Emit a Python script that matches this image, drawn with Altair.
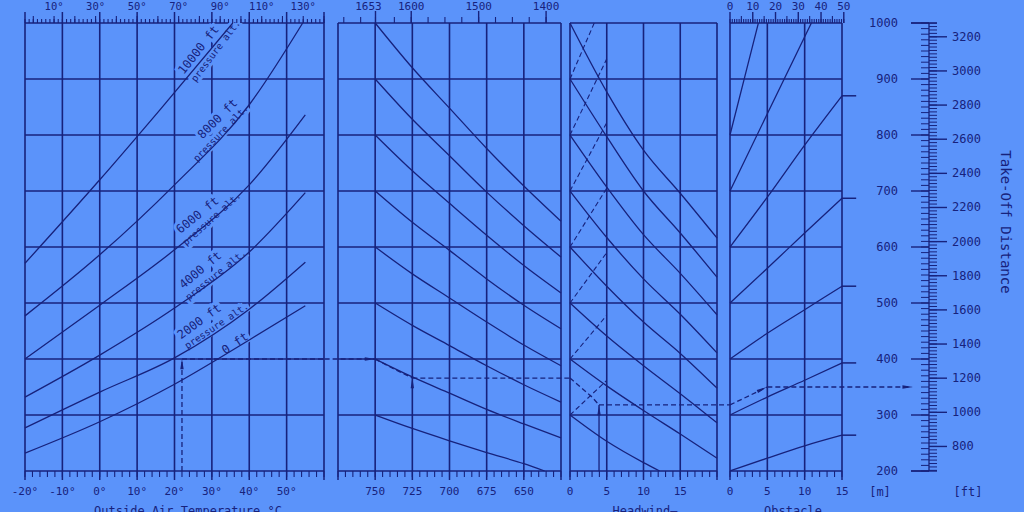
import altair as alt
import pandas as pd

BG = "#5b93fa"
INK = "#17227c"
FONT = "DejaVu Sans Mono"

# ---------------- data ----------------
dist_grid = [200, 300, 400, 500, 600, 700, 800, 900, 1000]
temp_grid = [-20, -10, 0, 10, 20, 30, 40, 50, 60]
weight_grid = [775, 750, 725, 700, 675, 650, 625]
wind_grid = [0, 5, 10, 15, 20]
obst_grid = [0, 5, 10, 15]

# panel 1: pressure altitude curves (temperature degC -> distance m)
alt_names = ["0 ft", "2000 ft", "4000 ft", "6000 ft", "8000 ft", "10000 ft"]
alt_temp = [
    [-20, 0, 20, 40, 55],
    [-20, 0, 20, 40, 55],
    [-20, 0, 20, 40, 55],
    [-20, 0, 20, 40, 55],
    [-20, 0, 20, 40, 54.3],
    [-20, 0, 16.1, 35.6],
]
alt_dist = [
    [232, 288, 355, 434, 495],
    [277, 341, 402, 489, 573],
    [332, 407, 491, 591, 697],
    [400, 496, 595, 711, 836],
    [477, 586, 711, 854, 1000],
    [571, 720, 845, 1000],
]
lab_text = ["10000 ft", "pressure alt.", "8000 ft", "pressure alt.", "6000 ft", "pressure alt.",
            "4000 ft", "pressure alt.", "2000 ft", "pressure alt.", "0 ft"]
lab_temp = [26.4, 31.05, 31.5, 32.4, 26.15, 30.0, 26.9, 31.05, 26.6, 31.3, 36.2]
lab_dist = [952, 950, 829, 803, 657, 650, 559, 550, 467, 459, 428]
lab_angle = [308, 307, 315, 314, 321, 318, 320, 321, 324, 326, 326]
lab_size = [12, 9.5, 12, 9.5, 12, 9.5, 12, 9.5, 12, 9.5, 12]

# panel 2: weight curves (kg -> distance m)
weight_pts = [750, 725, 700, 675, 650, 625]
weight_curves = [
    [1000, 920, 848, 776, 709, 646],
    [900, 828, 763, 698, 638, 582],
    [800, 736, 678, 621, 567, 518],
    [700, 644, 594, 543, 496, 454],
    [600, 552, 509, 466, 425, 388],
    [500, 460, 424, 388, 354, 323],
    [400, 368, 339, 310, 284, 259],
]
weight_last_w = [750, 725, 700, 675, 650, 636]
weight_last_d = [300, 276, 254, 233, 213, 200]

# panel 3: headwind curves (kt -> distance m)
wind_pts = [0, 5, 10, 15, 20]
wind_curves = [
    [1000, 877, 773, 696, 616],
    [900, 797, 700, 625, 546],
    [800, 707, 622, 553, 479],
    [700, 617, 543, 480, 411],
    [600, 530, 466, 410, 348],
    [500, 441, 388, 338, 286],
    [400, 352, 308, 266, 223],
]
wind_last_v = [0, 5, 10, 12.2]
wind_last_d = [300, 253, 215, 200]
tail_start = [900, 800, 700, 600, 500, 400, 300]
tail_end_v = [3.3, 5, 5, 5, 5, 5, 5]
tail_end_d = [1000, 936, 822, 705, 590, 478, 362]

# panel 4: obstacle height lines (m -> distance m)
obst_h = [
    [0, 5, 10, 15],
    [0, 5, 10, 15],
    [0, 5, 10, 15],
    [0, 5, 10, 15],
    [0, 5, 10, 15],
    [0, 5, 10.9],
    [0, 2, 3.8],
]
obst_d = [
    [200, 223, 245, 264],
    [300, 332, 362, 393],
    [400, 446, 488, 530],
    [500, 562, 625, 687],
    [600, 689, 782, 870],
    [700, 838, 1000],
    [800, 905, 1000],
]

# axis tick values / labels
top1_F_labels = [10, 30, 50, 70, 90, 110, 130]
bottom1_labels = [-20, -10, 0, 10, 20, 30, 40, 50]
top2_lb_ticks = [1700, 1675, 1653, 1625, 1600, 1575, 1550, 1525, 1500, 1475, 1450, 1425, 1400]
top2_lb_major = [1653, 1600, 1500, 1400]
bottom2_labels = [750, 725, 700, 675, 650]
bottom3_labels = [0, 5, 10, 15]
bottom4_labels = [0, 5, 10, 15]
top4_ft_labels = [0, 10, 20, 30, 40, 50]
right_m_labels = [200, 300, 400, 500, 600, 700, 800, 900, 1000]
right_ft_labels = [800, 1000, 1200, 1400, 1600, 1800, 2000, 2200, 2400, 2600, 2800, 3000, 3200]

# worked example path
ex_temp = 22
ex_alt_d = 400
ex_weight = 725
ex_weight_d = 366
ex_wind = 3.95
ex_wind_path_v = [0, 3, 3.95]
ex_wind_path_d = [366, 332, 318]
ex_obst = 5
ex_result = 350

# ---------------- scales ----------------
SY = alt.Scale(domain=[200, 1000], range=[471, 23], nice=False, zero=False)
SX1 = alt.Scale(domain=[-20, 60], range=[25, 324], nice=False, zero=False)
SX2 = alt.Scale(domain=[625, 775], range=[561, 338], nice=False, zero=False)
SX3 = alt.Scale(domain=[0, 20], range=[570, 717], nice=False, zero=False)
SX4 = alt.Scale(domain=[0, 15], range=[730, 842], nice=False, zero=False)


def X(sx, f="x"):
    return alt.X(f"{f}:Q", scale=sx, axis=None)


def Y(f="d"):
    return alt.Y(f"{f}:Q", scale=SY, axis=None)


def grid(sx, xs, lo, hi):
    vg = pd.DataFrame({"x": xs, "y0": 200, "y1": 1000})
    hg = pd.DataFrame({"d": dist_grid, "x0": lo, "x1": hi})
    v = alt.Chart(vg).mark_rule(color=INK, strokeWidth=1.6).encode(x=X(sx), y=Y("y0"), y2="y1:Q")
    h = alt.Chart(hg).mark_rule(color=INK, strokeWidth=1.6).encode(x=X(sx, "x0"), x2="x1:Q", y=Y())
    return [v, h]


def curves(sx, xs_list, ds_list, dash=None, sw=1.3):
    rows = []
    for i, (xs, ds) in enumerate(zip(xs_list, ds_list)):
        for j, (a, b) in enumerate(zip(xs, ds)):
            rows.append({"c": i, "o": j, "x": a, "d": b})
    mk = dict(color=INK, strokeWidth=sw, interpolate="monotone")
    if dash:
        mk["strokeDash"] = dash
        mk["interpolate"] = "linear"
    return alt.Chart(pd.DataFrame(rows)).mark_line(**mk).encode(
        x=X(sx), y=Y(), detail="c:N", order="o:Q")


def ticks(sx, vals, at, length, sw=1.1):
    df = pd.DataFrame({"x": list(vals), "d": at})
    return alt.Chart(df).mark_rule(color=INK, strokeWidth=sw, y2Offset=length).encode(
        x=X(sx), y=Y(), y2="d:Q")


def xlabels(sx, vals, texts, at, dy, size=11, dx=0):
    df = pd.DataFrame({"x": list(vals), "t": list(texts), "d": at})
    return alt.Chart(df).mark_text(color=INK, font=FONT, fontSize=size, dy=dy, dx=dx,
                                   baseline="middle", align="center").encode(
        x=X(sx), y=Y(), text="t:N")


def arrow(sx, x, d, kind, ang=0):
    shapes = {"up": "M0,-1L0.32,1L-0.32,1Z", "right": "M1,0L-1,0.32L-1,-0.32Z"}
    df = pd.DataFrame({"x": [x], "d": [d]})
    mk = dict(shape=shapes[kind], size=110, filled=True, color=INK, opacity=1, strokeWidth=0)
    if ang:
        mk["angle"] = ang
    return alt.Chart(df).mark_point(**mk).encode(x=X(sx), y=Y())


def seg(sx, xs, ds, dash=True, sw=1.3):
    df = pd.DataFrame({"x": xs, "d": ds, "o": list(range(len(xs)))})
    mk = dict(color=INK, strokeWidth=sw)
    if dash:
        mk["strokeDash"] = [5, 3]
    return alt.Chart(df).mark_line(**mk).encode(x=X(sx), y=Y(), order="o:Q")


def f2c(f):
    return (f - 32) * 5 / 9


TOP_DY = -16

# ---------------- panel 1 ----------------
labdf = pd.DataFrame({"x": lab_temp, "d": lab_dist, "t": lab_text, "ang": lab_angle, "s": lab_size})
halo = alt.Chart(labdf).mark_text(font=FONT, fill=BG, stroke=BG, strokeWidth=6,
                                  baseline="middle", align="center").encode(
    x=X(SX1), y=Y(), text="t:N", angle=alt.Angle("ang:Q", scale=None),
    size=alt.Size("s:Q", scale=None))
labs = alt.Chart(labdf).mark_text(font=FONT, color=INK, baseline="middle", align="center").encode(
    x=X(SX1), y=Y(), text="t:N", angle=alt.Angle("ang:Q", scale=None),
    size=alt.Size("s:Q", scale=None))

p1 = alt.layer(
    *grid(SX1, temp_grid, -20, 60),
    halo,
    curves(SX1, alt_temp, alt_dist),
    labs,
    ticks(SX1, [f2c(f) for f in range(-4, 141, 2)], 1000, -4),
    ticks(SX1, [f2c(f) for f in range(0, 141, 10)], 1000, -7),
    ticks(SX1, temp_grid, 1000, -11, 1.5),
    xlabels(SX1, [f2c(f) for f in top1_F_labels], [f"{f}°" for f in top1_F_labels], 1000, TOP_DY, 10.5),
    ticks(SX1, list(range(-20, 61, 2)), 200, 6),
    ticks(SX1, temp_grid, 200, 9, 1.5),
    xlabels(SX1, bottom1_labels, [f"{v}°" for v in bottom1_labels], 200, 21),
    seg(SX1, [ex_temp, ex_temp], [200, ex_alt_d]),
    seg(SX1, [ex_temp, 60], [ex_alt_d, ex_alt_d]),
    arrow(SX1, ex_temp, ex_alt_d - 9, "up"),
)

# ---------------- panel 2 ----------------
w_x = [weight_pts] * len(weight_curves) + [weight_last_w]
w_d = weight_curves + [weight_last_d]
lb_major_kg = [lb * 0.45359237 for lb in top2_lb_major]
p2 = alt.layer(
    *grid(SX2, weight_grid, 775, 625),
    curves(SX2, w_x, w_d),
    ticks(SX2, [lb * 0.45359237 for lb in top2_lb_ticks], 1000, -6),
    ticks(SX2, lb_major_kg, 1000, -12, 1.4),
    xlabels(SX2, lb_major_kg[:1], [str(top2_lb_major[0])], 1000, TOP_DY, 11, -7),
    xlabels(SX2, lb_major_kg[1:], [str(v) for v in top2_lb_major[1:]], 1000, TOP_DY, 11),
    ticks(SX2, list(range(625, 776, 5)), 200, 6),
    ticks(SX2, weight_grid, 200, 9, 1.5),
    xlabels(SX2, bottom2_labels, [str(v) for v in bottom2_labels], 200, 21),
    seg(SX2, [784, 750], [ex_alt_d, ex_alt_d]),
    seg(SX2, [750, 738, ex_weight], [ex_alt_d, 383, ex_weight_d]),
    seg(SX2, [ex_weight, 619], [ex_weight_d, ex_weight_d]),
    arrow(SX2, 753.5, ex_alt_d, "right"),
    arrow(SX2, ex_weight, ex_weight_d - 9, "up"),
)

# ---------------- panel 3 ----------------
v_x = [wind_pts] * len(wind_curves) + [wind_last_v]
v_d = wind_curves + [wind_last_d]
p3 = alt.layer(
    *grid(SX3, wind_grid, 0, 20),
    curves(SX3, v_x, v_d),
    curves(SX3, [[0, e] for e in tail_end_v], [[s, e] for s, e in zip(tail_start, tail_end_d)],
           dash=[5, 3], sw=1.1),
    ticks(SX3, list(range(0, 21)), 200, 6),
    ticks(SX3, wind_grid, 200, 9, 1.5),
    xlabels(SX3, bottom3_labels, [str(v) for v in bottom3_labels], 200, 21),
    seg(SX3, ex_wind_path_v, ex_wind_path_d),
    seg(SX3, [ex_wind, 21.8], [ex_wind_path_d[-1]] * 2),
    seg(SX3, [ex_wind, ex_wind], [200, ex_wind_path_d[-1]], dash=False),
    arrow(SX3, ex_wind, ex_wind_path_d[-1] - 9, "up"),
)

# ---------------- panel 4 ----------------
stub_d = [d[-1] for d, h in zip(obst_d, obst_h) if h[-1] == 15]
stubs = pd.DataFrame({"x0": 15, "x1": 16.9, "d": stub_d})
p4 = alt.layer(
    *grid(SX4, obst_grid, 0, 15),
    curves(SX4, obst_h, obst_d),
    alt.Chart(stubs).mark_rule(color=INK, strokeWidth=1.5).encode(x=X(SX4, "x0"), x2="x1:Q", y=Y()),
    ticks(SX4, [f * 0.3048 for f in range(0, 51)], 1000, -4),
    ticks(SX4, [f * 0.3048 for f in range(5, 51, 10)], 1000, -7),
    ticks(SX4, [f * 0.3048 for f in top4_ft_labels], 1000, -11, 1.4),
    xlabels(SX4, [f * 0.3048 for f in top4_ft_labels], [str(v) for v in top4_ft_labels], 1000, TOP_DY, 11),
    ticks(SX4, list(range(0, 16)), 200, 6),
    ticks(SX4, obst_grid, 200, 9, 1.5),
    xlabels(SX4, bottom4_labels, [str(v) for v in bottom4_labels], 200, 21),
    seg(SX4, [0, ex_obst], [ex_wind_path_d[-1], ex_result]),
    seg(SX4, [ex_obst, 24.3], [ex_result, ex_result]),
    arrow(SX4, 4.3, ex_result - 4, "right", 334),
    arrow(SX4, 23.8, ex_result, "right"),
)

# ---------------- right axis ----------------
m_minor = pd.DataFrame({"d": list(range(200, 1001, 10))})
m_major = pd.DataFrame({"d": right_m_labels, "t": [str(v) for v in right_m_labels]})
ft_minor = pd.DataFrame({"d": [f * 0.3048 for f in range(660, 3281, 20)]})
ft_major = pd.DataFrame({"d": [f * 0.3048 for f in right_ft_labels], "t": [str(v) for v in right_ft_labels]})
ends = pd.DataFrame({"d": [200, 1000]})
line = pd.DataFrame({"d0": [200], "d1": [1000]})

right = alt.layer(
    alt.Chart(line).mark_rule(color=INK, strokeWidth=1.3).encode(x=alt.value(929), y=Y("d0"), y2="d1:Q"),
    alt.Chart(m_minor).mark_rule(color=INK, strokeWidth=1).encode(x=alt.value(921), x2=alt.value(929), y=Y()),
    alt.Chart(m_major).mark_rule(color=INK, strokeWidth=1.4).encode(x=alt.value(911), x2=alt.value(929), y=Y()),
    alt.Chart(ends).mark_rule(color=INK, strokeWidth=1.4).encode(x=alt.value(911), x2=alt.value(937), y=Y()),
    alt.Chart(ft_minor).mark_rule(color=INK, strokeWidth=1).encode(x=alt.value(929), x2=alt.value(937), y=Y()),
    alt.Chart(ft_major).mark_rule(color=INK, strokeWidth=1.4).encode(x=alt.value(929), x2=alt.value(947), y=Y()),
    alt.Chart(m_major).mark_text(color=INK, font=FONT, fontSize=12, align="right", baseline="middle").encode(
        x=alt.value(898), y=Y(), text="t:N"),
    alt.Chart(ft_major).mark_text(color=INK, font=FONT, fontSize=12, align="left", baseline="middle").encode(
        x=alt.value(952), y=Y(), text="t:N"),
)

titles = pd.DataFrame({
    "t": ["[m]", "[ft]", "Headwind—", "Obstacle", "Outside Air Temperature °C"],
    "px": [880, 968, 645, 793, 188],
    "py": [492, 492, 511, 511, 511],
})
title_layer = alt.Chart(titles).mark_text(color=INK, font=FONT, fontSize=12, align="center",
                                          baseline="middle").encode(
    x=alt.X("px:Q", scale=None, axis=None), y=alt.Y("py:Q", scale=None, axis=None), text="t:N")
side = alt.Chart(pd.DataFrame({"t": ["Take-Off Distance"]})).mark_text(
    color=INK, font=FONT, fontSize=14, angle=90, align="center", baseline="middle").encode(
    x=alt.value(1005), y=alt.value(222), text="t:N")

chart = alt.layer(p1, p2, p3, p4, right, title_layer, side).resolve_scale(
    x="independent", y="independent").properties(
    width=1024, height=512, padding=0, background=BG,
    autosize=alt.AutoSizeParams(type="none")
).configure_view(stroke=None, fill=BG)

chart.save("out.html", embed_options={"renderer": "svg", "actions": False})
